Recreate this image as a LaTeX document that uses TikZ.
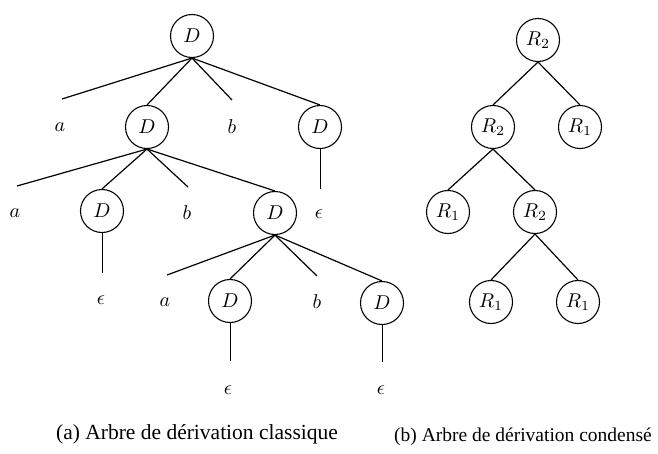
\documentclass[tikz,border=0pt]{standalone}
\usepackage{graphicx}
\usepackage{fontspec}
\newfontfamily\capfont{Liberation Serif}
% math labels enlarged to the size of the tree symbols
\newcommand{\mlab}[1]{\scalebox{2.0}{$#1$}}
\begin{document}
\begin{tikzpicture}[x=1pt,y=-1pt,
  nt/.style={circle,draw,minimum size=43pt,inner sep=0pt,line width=1.1pt},
  lbl/.style={inner sep=0pt},
  edge/.style={line width=1.2pt},
  stem/.style={line width=1.0pt},
  captext/.style={inner sep=0pt,font=\capfont\fontsize{21.5}{24}\selectfont}]
\useasboundingbox (0,0) rectangle (658,453);

% ---- classical derivation tree ----
\node[nt] (d1) at (192,36) {\mlab{D}};
\node[nt] (d2) at (147,127) {\mlab{D}};
\node[nt] (d3) at (320,127) {\mlab{D}};
\node[nt] (d4) at (102,211) {\mlab{D}};
\node[nt] (d5) at (275,213) {\mlab{D}};
\node[nt] (d6) at (230,301) {\mlab{D}};
\node[nt] (d7) at (382,303) {\mlab{D}};

\coordinate (t1a) at (62,99);
\coordinate (t1b) at (232,100);
\coordinate (t3e) at (320,189);
\coordinate (t2a) at (17,186);
\coordinate (t2b) at (188,187);
\coordinate (t4e) at (102,273);
\coordinate (t5a) at (167,275);
\coordinate (t5b) at (317,276);
\coordinate (t6e) at (230,361);
\coordinate (t7e) at (382,362);

\node[lbl] (a1) at (60,127) {\mlab{a}};
\node[lbl] (b1) at (232,127) {\mlab{b}};
\node[lbl] (e3) at (319,214) {\mlab{\epsilon}};
\node[lbl] (a2) at (15,213) {\mlab{a}};
\node[lbl] (b2) at (187,213) {\mlab{b}};
\node[lbl] (e4) at (101,300) {\mlab{\epsilon}};
\node[lbl] (a3) at (165,302) {\mlab{a}};
\node[lbl] (b3) at (317,302) {\mlab{b}};
\node[lbl] (e6) at (228,390) {\mlab{\epsilon}};
\node[lbl] (e7) at (381,390) {\mlab{\epsilon}};

\draw[edge] (d1.south) -- (t1a);
\draw[edge] (d1.south) -- (d2.north);
\draw[edge] (d1.south) -- (t1b);
\draw[edge] (d1.south) -- (d3.north);
\draw[stem] (d3.south) -- (t3e);
\draw[edge] (d2.south) -- (t2a);
\draw[edge] (d2.south) -- (d4.north);
\draw[edge] (d2.south) -- (t2b);
\draw[edge] (d2.south) -- (d5.north);
\draw[stem] (d4.south) -- (t4e);
\draw[edge] (d5.south) -- (t5a);
\draw[edge] (d5.south) -- (d6.north);
\draw[edge] (d5.south) -- (t5b);
\draw[edge] (d5.south) -- (d7.north);
\draw[stem] (d6.south) -- (t6e);
\draw[stem] (d7.south) -- (t7e);

% ---- condensed derivation tree ----
\node[nt] (r1) at (538,40) {\mlab{R_2}};
\node[nt] (r2) at (493,127) {\mlab{R_2}};
\node[nt] (r3) at (580,127) {\mlab{R_1}};
\node[nt] (r4) at (448,212) {\mlab{R_1}};
\node[nt] (r5) at (535,212) {\mlab{R_2}};
\node[nt] (r6) at (491,302) {\mlab{R_1}};
\node[nt] (r7) at (578,302) {\mlab{R_1}};

\draw[edge] (r1.south) -- (r2.north);
\draw[edge] (r1.south) -- (r3.north);
\draw[edge] (r2.south) -- (r4.north);
\draw[edge] (r2.south) -- (r5.north);
\draw[edge] (r5.south) -- (r6.north);
\draw[edge] (r5.south) -- (r7.north);

% ---- captions ----
\node[captext] (ca) at (197,434) {(a) Arbre de dérivation classique};
\node[captext,font=\capfont\fontsize{19.5}{22}\selectfont] (cb) at (523,437) {(b) Arbre de dérivation condensé};
\end{tikzpicture}
\end{document}
